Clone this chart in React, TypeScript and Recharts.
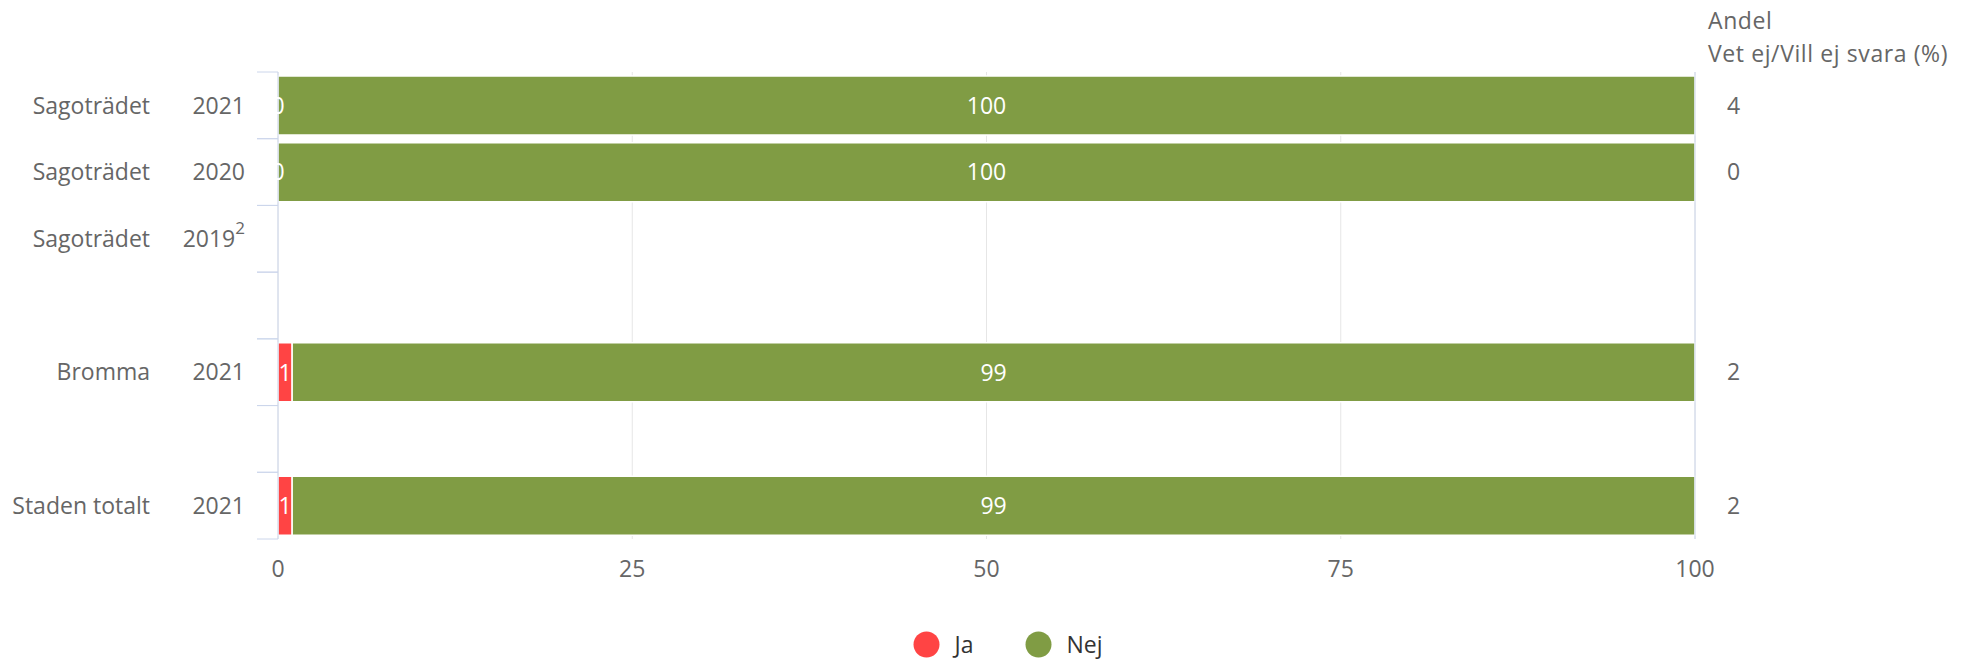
import { BarChart, Bar, XAxis, YAxis, CartesianGrid, LabelList, Legend } from 'recharts'

// Enheter och år (rader uppifrån och ned, tomma rader = mellanrum)
const units = ['Sagoträdet', 'Sagoträdet', 'Sagoträdet', '', 'Bromma', '', 'Staden totalt']
const years = ['2021', '2020', '2019', '', '2021', '', '2021']
const yearNotes = ['', '', '2', '', '', '', '']

// Andel svar (%)
const jaValues = [0, 0, null, null, 1, null, 1]
const nejValues = [100, 100, null, null, 99, null, 99]

// Andel Vet ej/Vill ej svara (%)
const unknownShare = ['4', '0', '', '', '2', '', '2']

const xTicks = [0, 25, 50, 75, 100]

const RED = '#ff4444'
const GREEN = '#809c44'
const AXIS = '#ccd6eb'
const TEXT = '#666666'
const FONT = '"Open Sans", sans-serif'
const FS = 23

const data = units.map((unit, i) => ({
  key: `row${i}`,
  unit,
  year: years[i],
  note: yearNotes[i],
  ja: jaValues[i],
  nej: nejValues[i],
  unknown: unknownShare[i],
}))

const rowOf = (key: string) => data.find((d) => d.key === key)

// Etiketter i två kolumner + streck mellan kategorierna
function CategoryTick({ x, y, payload }: any) {
  const row = rowOf(payload?.value)
  if (!row) return null
  const half = payload.offset || 0
  const axisX = x + 8
  return (
    <g>
      <line x1={axisX - 21} x2={axisX} y1={y - half} y2={y - half} stroke={AXIS} />
      <line x1={axisX - 21} x2={axisX} y1={y + half} y2={y + half} stroke={AXIS} />
      <g fontFamily={FONT} fontSize={FS} fill={TEXT}>
        <text x={150} y={y} dy="0.36em" textAnchor="end">
          {row.unit}
        </text>
        <text x={245} y={y} dy="0.36em" textAnchor="end">
          {row.year}
          {row.note && (
            <tspan fontSize={17} dy="-0.75em">
              {row.note}
            </tspan>
          )}
        </text>
      </g>
    </g>
  )
}

// Ja-etiketten ritas ovanpå Nej-stapeln (syns även när Ja = 0)
function JaLabel({ x, y, width, height, value }: any) {
  const row = rowOf(value)
  if (!row || row.ja == null || !row.nej) return null
  const perUnit = width / row.nej
  const cx = x - (row.ja * perUnit) / 2
  return (
    <text
      x={cx}
      y={y + height / 2}
      dy="0.36em"
      textAnchor="middle"
      fill="#fff"
      fontSize={FS}
      fontFamily={FONT}
    >
      {row.ja}
    </text>
  )
}

function LegendContent({ payload }: any) {
  return (
    <div
      style={{
        display: 'flex',
        justifyContent: 'center',
        paddingLeft: 42,
        fontFamily: FONT,
        fontSize: FS,
        color: '#333',
      }}
    >
      {(payload || []).map((entry: any, i: number) => (
        <div
          key={entry.value}
          style={{ display: 'flex', alignItems: 'center', marginLeft: i ? 52 : 0 }}
        >
          <svg width={27} height={27}>
            <circle cx={13.5} cy={13.5} r={13} fill={entry.color} />
          </svg>
          <span style={{ marginLeft: 14 }}>{entry.value}</span>
        </div>
      ))}
    </div>
  )
}

export default function App() {
  return (
    <div style={{ position: 'absolute', left: 0, top: 0, width: 1974, height: 662, fontFamily: FONT }}>
      <div
        style={{
          position: 'absolute',
          left: 1708,
          top: 4,
          color: TEXT,
          fontSize: FS,
          lineHeight: '33px',
          whiteSpace: 'nowrap',
          letterSpacing: 0.6,
        }}
      >
        <div>Andel</div>
        <div>Vet ej/Vill ej svara (%)</div>
      </div>
      <BarChart
        width={1974}
        height={662}
        data={data}
        layout="vertical"
        margin={{ top: 72, right: 0, bottom: 83, left: 0 }}
        barSize={59}
      >
        <CartesianGrid horizontal={false} stroke="#e6e6e6" yAxisId="cat" />
        <XAxis
          type="number"
          domain={[0, 100]}
          ticks={xTicks}
          axisLine={false}
          tickLine={false}
          tickSize={0}
          tickMargin={22}
          height={40}
          tick={{ fill: TEXT, fontSize: FS, fontFamily: FONT }}
        />
        <YAxis
          yAxisId="cat"
          type="category"
          dataKey="key"
          width={278}
          axisLine={{ stroke: AXIS }}
          tickLine={false}
          tickSize={0}
          tickMargin={8}
          tick={(props: any) => <CategoryTick {...props} />}
          interval={0}
        />
        <YAxis
          yAxisId="right"
          orientation="right"
          type="category"
          dataKey="key"
          width={279}
          interval={0}
          tickLine={false}
          tickSize={0}
          tickMargin={32}
          axisLine={{ stroke: AXIS }}
          tickFormatter={(v: any) => rowOf(v)?.unknown ?? ''}
          tick={{ fill: TEXT, fontSize: FS, fontFamily: FONT, textAnchor: 'start' }}
        />
        <Legend
          verticalAlign="middle"
          align="center"
          content={<LegendContent />}
          wrapperStyle={{ top: 628, left: 0, width: 1974 }}
        />
        <Bar
          yAxisId="cat"
          dataKey="ja"
          name="Ja"
          stackId="a"
          fill={RED}
          stroke="#fff"
          strokeWidth={1.5}
          isAnimationActive={false}
        />
        <Bar
          yAxisId="cat"
          dataKey="nej"
          name="Nej"
          stackId="a"
          fill={GREEN}
          stroke="#fff"
          strokeWidth={1.5}
          isAnimationActive={false}
        >
          <LabelList dataKey="nej" position="center" fill="#fff" fontSize={FS} fontFamily={FONT} />
          <LabelList dataKey={(d: any) => d.key} content={<JaLabel />} />
        </Bar>
      </BarChart>
    </div>
  )
}
